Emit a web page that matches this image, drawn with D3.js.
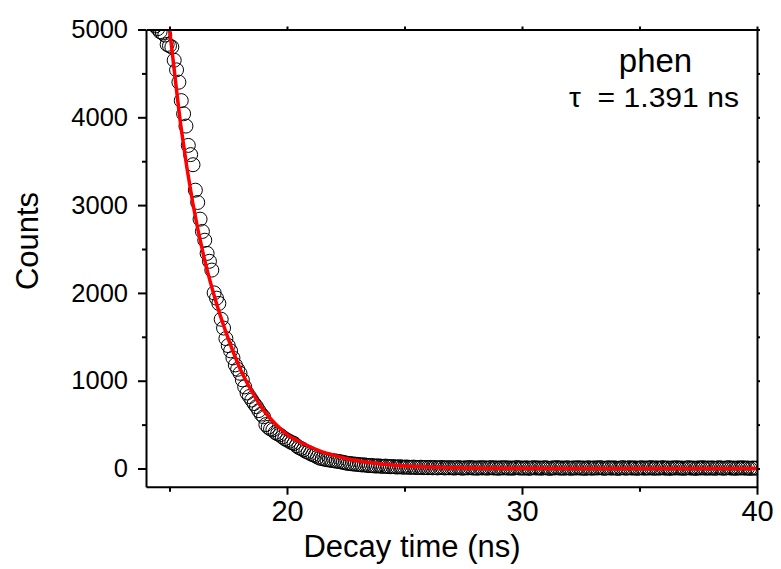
<!DOCTYPE html>
<html>
<head>
<meta charset="utf-8">
<script src="https://cdn.jsdelivr.net/npm/d3@7"></script>
<style>
  html, body { margin: 0; padding: 0; background: #fff; }
  svg { display: block; }
  text { font-family: "Liberation Sans", Arial, sans-serif; fill: #000; }
</style>
</head>
<body>
<svg id="chart" width="781" height="569"></svg>
<script>
// ---- Data ----
// TCSPC channels: first channel time and channel width (ns)
const startTime = 14.3;
const channelWidth = 0.1;
// measured counts per channel
const counts = [
  5060, 5040, 5010, 4975, 4960, 4937, 4830, 4815, 4800, 4650,
  4540, 4400, 4190, 4040, 3900, 3680, 3575, 3460, 3170, 3030,
  2840, 2700, 2600, 2450, 2360, 2260, 2000, 1940, 1880, 1700,
  1600, 1480, 1400, 1340, 1260, 1180, 1130, 1085, 1010, 930,
  860, 820, 780, 740, 705, 660, 620, 590, 500, 470,
  450, 440, 410, 395, 382, 360, 340, 325, 310, 295,
  285, 260, 240, 228, 212, 195, 185, 170, 156, 148,
  130, 118, 112, 106, 100, 97, 92, 88, 84, 80,
  75, 70, 63, 59, 56, 52, 50,
  47, 44, 40, 42, 36, 33, 35, 30, 28, 31,
  26, 24, 28, 22, 20, 23, 19, 17, 21, 16,
  15, 18, 13, 14, 16, 11, 12, 15, 10, 12,
  9, 13, 8, 11, 7, 10, 12, 6, 9, 8,
  10, 5, 8, 11, 6, 4, 9, 7, 12, 5,
  8, 3, 10, 6, 9, 4, 7, 11, 5, 8,
  2, 9, 6, 10, 4, 7, 3, 8, 11, 5,
  7, 4, 9, 2, 6, 10, 5, 8, 3, 7,
  9, 5, 1, 8, 6, 11, 4, 7, 3, 9,
  6, 2, 8, 5, 10, 4, 7, 1, 9, 6,
  3, 8, 5, 10, 7, 2, 6, 9, 4, 8,
  5, 1, 7, 10, 3, 6, 9, 4, 8, 2,
  6, 9, 3, 7, 5, 11, 2, 8, 4, 6,
  10, 3, 7, 1, 8, 5, 9, 4, 6, 2,
  7, 9, 4, 6, 1, 8, 5, 10, 3, 7,
  4, 8, 2, 6, 9, 5, 3, 7, 10, 4,
  6, 2, 8, 5, 9, 3, 7, 1, 6, 4,
  5
];
// fitted decay curve (red line)
const fitTimes  = [14.8, 15.0, 15.5, 16.0, 16.5, 17.0, 17.5, 18.0, 18.5, 19.0, 19.5, 20.0, 20.5, 21.0, 21.5, 22.0, 22.5, 23.0, 23.5, 24.0, 25.0, 26.0, 27.0, 28.0, 30.0, 35.0, 40.0];
const fitCounts = [5420, 5000, 3870, 3010, 2370, 1880, 1480, 1140, 880, 665, 510, 390, 310, 245, 190, 150, 115, 88, 68, 52, 30, 17, 9, 5, 2, 0, 0];

// axis ticks
const xMajorTicks = [20, 30, 40];
const xMinorTicks = [15, 25, 35];
const yMajorTicks = [0, 1000, 2000, 3000, 4000, 5000];
const yMinorTicks = [500, 1500, 2500, 3500, 4500];

const xTitle = "Decay time (ns)";
const yTitle = "Counts";
const sampleName = "phen";
const lifetimeLabel = "\u03C4  = 1.391 ns";

// ---- Drawing ----
const svg = d3.select("#chart");
const pL = 146, pR = 757, pT = 29.5, pB = 486.7;

const x = d3.scaleLinear().domain([14, 40]).range([pL, pR]);
const y = d3.scaleLinear().domain([-207, 5000]).range([pB, pT]);

svg.append("defs").append("clipPath").attr("id", "plotclip")
  .append("rect").attr("x", pL).attr("y", pT)
  .attr("width", pR - pL).attr("height", pB - pT);

const points = counts.map((c, i) => ({ t: startTime + i * channelWidth, c }));

const plot = svg.append("g").attr("clip-path", "url(#plotclip)");
plot.selectAll("circle.pt").data(points).enter().append("circle")
  .attr("class", "pt")
  .attr("cx", d => x(d.t))
  .attr("cy", d => y(d.c))
  .attr("r", 7)
  .attr("fill", "none")
  .attr("stroke", "#000")
  .attr("stroke-width", 1);

const fitData = fitTimes.map((t, i) => ({ t, c: fitCounts[i] }));
plot.append("path").datum(fitData)
  .attr("fill", "none")
  .attr("stroke", "#ff0000")
  .attr("stroke-width", 3.5)
  .attr("d", d3.line().x(d => x(d.t)).y(d => y(d.c)).curve(d3.curveMonotoneX));

function styleAxis(g) {
  g.selectAll("path.domain").attr("stroke", "#000").attr("stroke-width", 2);
  g.selectAll(".tick line").attr("stroke", "#000").attr("stroke-width", 2);
}

// bottom axis
const gB = svg.append("g").attr("transform", `translate(0,${pB})`)
  .call(d3.axisBottom(x).tickValues(xMajorTicks).tickSize(8).tickSizeOuter(0).tickPadding(6).tickFormat(d3.format("d")));
styleAxis(gB);
gB.selectAll(".tick text").attr("font-size", 29).attr("font-family", "Liberation Sans, Arial, sans-serif");
svg.append("g").attr("transform", `translate(0,${pB})`)
  .call(d3.axisBottom(x).tickValues(xMinorTicks).tickSize(5).tickFormat(""))
  .call(g => { g.select("path.domain").remove(); styleAxis(g); });

// left axis
const gL = svg.append("g").attr("transform", `translate(${pL},0)`)
  .call(d3.axisLeft(y).tickValues(yMajorTicks).tickSize(8).tickSizeOuter(0).tickPadding(10).tickFormat(d3.format("d")));
styleAxis(gL);
gL.selectAll(".tick text").attr("font-size", 25.5).attr("font-family", "Liberation Sans, Arial, sans-serif");
svg.append("g").attr("transform", `translate(${pL},0)`)
  .call(d3.axisLeft(y).tickValues(yMinorTicks).tickSize(4).tickFormat(""))
  .call(g => { g.select("path.domain").remove(); styleAxis(g); });

// top axis
svg.append("g").attr("transform", `translate(0,${pT})`)
  .call(d3.axisTop(x).tickValues(xMajorTicks.concat(xMinorTicks)).tickSize(3).tickSizeOuter(0).tickFormat(""))
  .call(styleAxis);
// right axis
svg.append("g").attr("transform", `translate(${pR},0)`)
  .call(d3.axisRight(y).tickValues(yMajorTicks.concat(yMinorTicks)).tickSize(3).tickSizeOuter(0).tickFormat(""))
  .call(styleAxis);

// axis titles
svg.append("text")
  .attr("x", 412).attr("y", 557)
  .attr("text-anchor", "middle")
  .attr("font-size", 31)
  .text(xTitle);

svg.append("text")
  .attr("transform", "translate(38,241) rotate(-90)")
  .attr("text-anchor", "middle")
  .attr("font-size", 31)
  .text(yTitle);

// annotations
svg.append("text")
  .attr("x", 655.5).attr("y", 72)
  .attr("text-anchor", "middle")
  .attr("font-size", 33)
  .text(sampleName);

svg.append("text")
  .attr("x", 569).attr("y", 107)
  .attr("font-size", 27)
  .attr("xml:space", "preserve")
  .style("white-space", "pre")
  .attr("textLength", 170)
  .attr("lengthAdjust", "spacingAndGlyphs")
  .text(lifetimeLabel);
</script>
</body>
</html>
